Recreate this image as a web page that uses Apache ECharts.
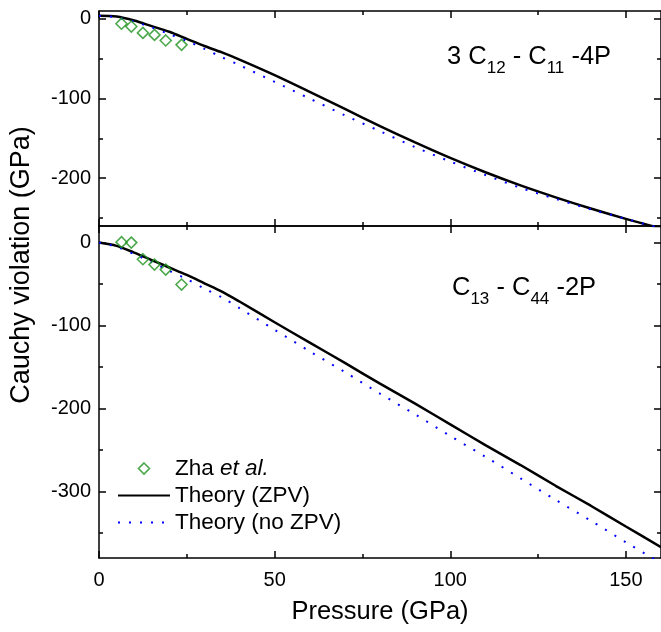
<!DOCTYPE html>
<html><head><meta charset="utf-8">
<script src="https://cdn.jsdelivr.net/npm/echarts@6/dist/echarts.min.js"></script>
<style>html,body{margin:0;padding:0;background:#fff}#c{width:661px;height:632px}</style>
</head><body><div id="c"></div>
<script>
// ---- data ----
const zhaPressure = [6.4, 9.2, 12.5, 15.8, 19.0, 23.5];
const zhaTop = [-6, -9.5, -17.5, -20, -27, -32.5];
const zhaBottom = [0.5, 0, -20, -26.5, -32.5, -50.5];

const theoryPressure = [0, 5, 10, 15, 20, 25, 30, 35, 40, 50, 60, 70, 80, 90, 100, 110, 120, 130, 140, 150, 160];
const topZPV   = [4, 3, -2, -9, -16, -25, -34, -42, -51, -70.5, -91.5, -113, -134.5, -155, -174.5, -192.5, -209, -224, -238, -251, -263];
const topNoZPV = [4, 2, -3.5, -10.5, -19, -27.5, -37.5, -48, -58, -79, -100, -121, -141, -161, -179, -196, -212, -226, -239, -251, -263];
const botZPV   = [0, -4, -12, -21, -30, -39, -49, -59, -71, -96, -120.5, -145, -170, -194, -219, -244, -268, -293, -317, -342, -367];
const botNoZPV = [0, -5, -14, -23.5, -34, -44, -55.5, -66, -79, -105, -131, -156, -182, -207, -233, -258, -284, -310, -335, -361, -386];

const xMajor = [0, 50, 100, 150];
const xMinor = [25, 75, 125];
const topYMajor = [0, -100, -200];
const topYMinor = [-50, -150, -250];
const botYMajor = [0, -100, -200, -300];
const botYMinor = [-50, -150, -250, -350];

const legendNames = ['Zha et al.', 'Theory (ZPV)', 'Theory (no ZPV)'];

// ---- build ----
const FONT = '"Liberation Sans", Arial, sans-serif';
const pair = (xs, ys) => xs.map((x, i) => [x, ys[i]]);

function ax(grid, pos, min, max, ticks, len, labels, showLine) {
  return {
    type: 'value', gridIndex: grid, position: pos, min: min, max: max,
    axisLine: { show: showLine, onZero: false, lineStyle: { color: '#000', width: 1.5 } },
    axisTick: { show: true, inside: true, length: len, customValues: ticks, lineStyle: { color: '#000', width: 1.5 } },
    axisLabel: labels ? { show: true, customValues: ticks, color: '#000', fontSize: 20, fontFamily: FONT, margin: labels } : { show: false },
    splitLine: { show: false }
  };
}

const xAxes = [
  ax(0, 'bottom', 0, 160, xMajor, 7, 0, true),
  ax(0, 'bottom', 0, 160, xMinor, 4, 0, false),
  ax(0, 'top', 0, 160, xMajor, 7, 0, true),
  ax(0, 'top', 0, 160, xMinor, 4, 0, false),
  ax(1, 'bottom', 0, 160, xMajor, 7, 12, true),
  ax(1, 'bottom', 0, 160, xMinor, 4, 0, false),
  ax(1, 'top', 0, 160, xMajor, 7, 0, true),
  ax(1, 'top', 0, 160, xMinor, 4, 0, false)
];
Object.assign(xAxes[4], {
  name: 'Pressure (GPa)', nameLocation: 'middle', nameGap: 41,
  nameTextStyle: { color: '#000', fontSize: 25.5, fontFamily: FONT }
});

const yAxes = [
  ax(0, 'left', -260, 10, topYMajor, 7, 8, true),
  ax(0, 'left', -260, 10, topYMinor, 4, 0, false),
  ax(0, 'right', -260, 10, topYMajor, 7, 0, true),
  ax(0, 'right', -260, 10, topYMinor, 4, 0, false),
  ax(1, 'left', -380, 20, botYMajor, 7, 8, true),
  ax(1, 'left', -380, 20, botYMinor, 4, 0, false),
  ax(1, 'right', -380, 20, botYMajor, 7, 0, true),
  ax(1, 'right', -380, 20, botYMinor, 4, 0, false)
];

const green = '#1f921f';
const blue = '#0000ff';
const clear = 'rgba(0,0,0,0)';

function scatter(xi, yi, data) {
  return {
    name: legendNames[0], type: 'scatter', xAxisIndex: xi, yAxisIndex: yi, data: data,
    symbol: 'diamond', symbolSize: 11,
    itemStyle: { color: clear, borderColor: green, borderWidth: 1.6 },
    z: 5
  };
}
function solid(xi, yi, data) {
  return {
    name: legendNames[1], type: 'line', xAxisIndex: xi, yAxisIndex: yi, data: data,
    symbol: 'none', smooth: 0.3, itemStyle: { color: clear, borderWidth: 0 },
    lineStyle: { color: '#000', width: 2.5 }, z: 3
  };
}
function dotted(xi, yi, data) {
  return {
    name: legendNames[2], type: 'line', xAxisIndex: xi, yAxisIndex: yi, data: data,
    symbol: 'none', smooth: 0.3, itemStyle: { color: clear, borderWidth: 0 },
    lineStyle: { color: blue, width: 2, type: [2, 9] }, z: 4
  };
}

const option = {
  backgroundColor: '#fff',
  animation: false,
  grid: [
    { left: 99, top: 11, width: 565, height: 215 },
    { left: 99, top: 226, width: 565, height: 332 }
  ],
  xAxis: xAxes,
  yAxis: yAxes,
  legend: {
    orient: 'vertical', left: 117, top: 455, padding: 0,
    itemWidth: 52, itemHeight: 11, itemGap: 0,
    selectedMode: false, symbolKeepAspect: true,
    data: [
      { name: legendNames[0], icon: 'path://M5,0L10,5L5,10L0,5Z', itemStyle: { color: clear, borderColor: green, borderWidth: 1.6 } },
      { name: legendNames[1] },
      { name: legendNames[2] }
    ],
    formatter: n => n === legendNames[0] ? '{n|Zha }{i|et al.}' : n,
    textStyle: {
      color: '#000', fontSize: 22.5, fontFamily: FONT, lineHeight: 27,
      rich: {
        n: { color: '#000', fontSize: 22.5, fontFamily: FONT, lineHeight: 27 },
        i: { color: '#000', fontSize: 22.5, fontFamily: FONT, lineHeight: 27, fontStyle: 'italic' }
      }
    }
  },
  graphic: [
    {
      type: 'text', x: 22, y: 265, rotation: Math.PI / 2,
      style: { text: 'Cauchy violation (GPa)', fill: '#000', fontSize: 27, fontFamily: FONT, align: 'center', verticalAlign: 'middle' }
    },
    {
      type: 'text', x: 447, y: 44,
      style: {
        text: '{m|3 C}{s|12}{m| - C}{s|11}{m| -4P}', align: 'left', verticalAlign: 'top',
        rich: {
          m: { fill: '#000', fontSize: 25.5, fontFamily: FONT, lineHeight: 30, verticalAlign: 'top' },
          s: { fill: '#000', fontSize: 17, fontFamily: FONT, lineHeight: 17, padding: [16, 0, 0, 0], verticalAlign: 'top' }
        }
      }
    },
    {
      type: 'text', x: 452, y: 275,
      style: {
        text: '{m|C}{s|13}{m| - C}{s|44}{m| -2P}', align: 'left', verticalAlign: 'top',
        rich: {
          m: { fill: '#000', fontSize: 25.5, fontFamily: FONT, lineHeight: 30, verticalAlign: 'top' },
          s: { fill: '#000', fontSize: 17, fontFamily: FONT, lineHeight: 17, padding: [16, 0, 0, 0], verticalAlign: 'top' }
        }
      }
    }
  ],
  series: [
    solid(0, 0, pair(theoryPressure, topZPV)),
    dotted(0, 0, pair(theoryPressure, topNoZPV)),
    scatter(0, 0, pair(zhaPressure, zhaTop)),
    solid(4, 4, pair(theoryPressure, botZPV)),
    dotted(4, 4, pair(theoryPressure, botNoZPV)),
    scatter(4, 4, pair(zhaPressure, zhaBottom))
  ]
};

const chart = echarts.init(document.getElementById('c'), null, { renderer: 'canvas' });
chart.setOption(option);
</script>
</body></html>
